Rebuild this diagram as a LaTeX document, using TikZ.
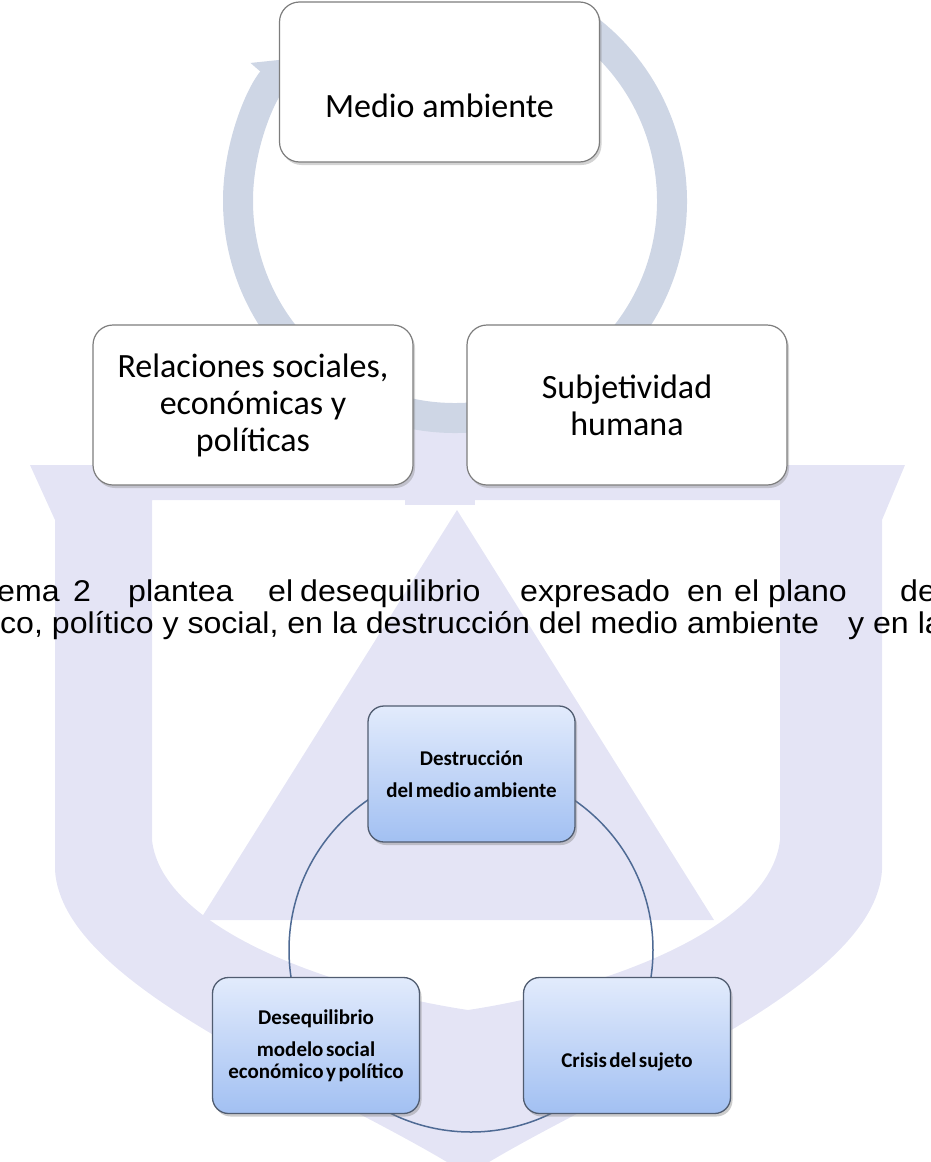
\documentclass[tikz,border=0pt]{standalone}
\usepackage{fontspec}
\usepackage{graphicx}
\setmainfont{Carlito}
\newfontfamily\arialfont{Liberation Sans}
\usetikzlibrary{arrows.meta,shadows,positioning}

\definecolor{wmark}{RGB}{228,228,245}
\definecolor{ringblue}{RGB}{206,214,229}
\definecolor{boxgray}{RGB}{125,125,125}
\definecolor{cycleline}{RGB}{78,106,148}
\definecolor{gradtop}{RGB}{226,235,252}
\definecolor{gradbot}{RGB}{162,192,242}
\definecolor{boxedge}{RGB}{80,92,112}

\newcommand{\widetext}[1]{\scalebox{1.07}[1]{#1}}
\newcommand{\tightspace}{\spaceskip=2.5pt plus 1pt\relax}

\tikzset{
  whitebox/.style={draw=boxgray, line width=1.2pt, fill=white, rounded corners=20pt,
    minimum width=320pt, minimum height=160pt, align=center, inner sep=0pt,
    drop shadow={shadow xshift=2pt, shadow yshift=-3pt, opacity=0.35},
    font=\fontsize{34}{37}\selectfont},
  bluebox/.style={draw=boxedge, line width=1.3pt, top color=gradtop, bottom color=gradbot,
    rounded corners=16pt, minimum width=207pt, minimum height=136pt, align=center,
    inner sep=0pt, drop shadow={shadow xshift=2pt, shadow yshift=-3pt, opacity=0.4},
    font=\bfseries\fontsize{21}{22}\selectfont\tightspace},
  ring/.style={draw=ringblue, line width=30pt, -{Triangle[length=30pt,width=54pt]}},
  para/.style={anchor=base west, inner sep=0pt, font=\arialfont\fontsize{30}{33}\selectfont}
}

\begin{document}
\begin{tikzpicture}[x=1pt,y=-1pt]
\useasboundingbox (0,0) rectangle (931,1162);
\clip (0,0) rectangle (931,1162);

% watermark
\fill[wmark, even odd rule] (30,465) -- (905,465) -- (882,520) -- (882,870)
  .. controls (875,990) and (600,1090) .. (468,1175)
  .. controls (336,1090) and (62,990) .. (55,870) -- (55,520) -- cycle
  (152,500) -- (780,500) -- (780,840) .. controls (770,930) and (600,990) .. (468,1010)
  .. controls (336,990) and (162,930) .. (152,840) -- cycle;
\fill[wmark] (405,425) rectangle (475,505);
\fill[wmark] (457,510) -- (714,920) -- (200,920) -- cycle;

% first cycle
\draw[ring] (455,201) ++(-55:217) arc[start angle=-55, end angle=221, radius=217];
\node[whitebox] (medio) at (439.5,82) {\raisebox{-35pt}[0pt][0pt]{Medio ambiente}};
\node[whitebox] (relaciones) at (253,405) {Relaciones sociales,\\ económicas y\\ políticas};
\node[whitebox] (subjetividad) at (627,405) {Subjetividad\\ humana};

% text
\foreach \word/\xpos [count=\i] in {ema/-3, 2/73, plantea/128, el/268, desequilibrio/300,
    expresado/520, en/687, el/734, plano/768, de/900}
  \node[para] (lineA\i) at (\xpos,601) {\widetext{\word}};
\node[para] (lineB1) at (0,633) {\widetext{co, político y social, en la destrucción del medio ambiente}};
\node[para] (lineB2) at (848,633) {\widetext{y en la}};

% second cycle
\draw[cycleline, line width=1.5pt] (471,950) circle[radius=182];
\node[bluebox] (destruccion) at (471.5,774) {Destrucción\\[10pt] del medio ambiente};
\node[bluebox] (desequilibrio) at (316,1045.5) {Desequilibrio\\[10pt] modelo social\\ económico y político};
\node[bluebox] (crisis) at (627,1045.5) {\raisebox{-21.5pt}[0pt][0pt]{Crisis del sujeto}};
\end{tikzpicture}
\end{document}
